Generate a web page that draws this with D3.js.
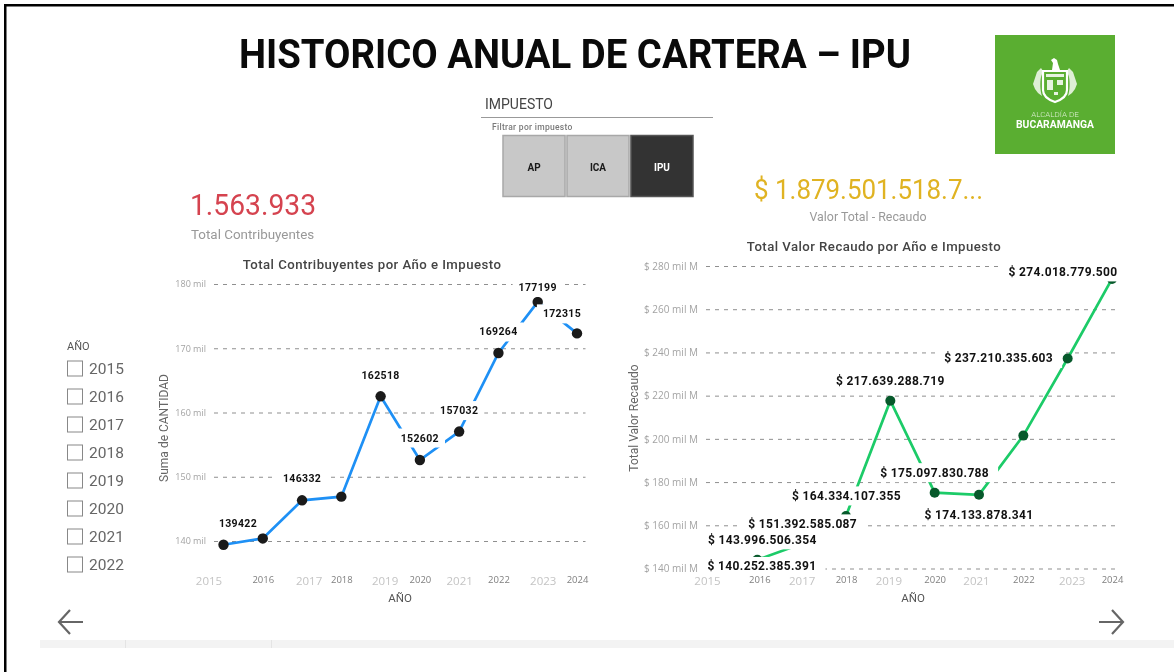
<!DOCTYPE html>
<html>
<head>
<meta charset="utf-8">
<script src="https://cdn.jsdelivr.net/npm/d3@7"></script>
<style>
  html, body { margin: 0; padding: 0; background: #fff; overflow: hidden; }
  svg { display: block; filter: blur(0.45px); }
  text { font-family: Roboto, "Open Sans", sans-serif; }
</style>
</head>
<body>
<div id="chart"></div>
<script>
// data (2016, 2018 and the 2022 recaudo have no label, so estimated)
var years = [2015, 2016, 2017, 2018, 2019, 2020, 2021, 2022, 2023, 2024];
var contribuyentes = [139422, 140400, 146332, 146900, 162518, 152602, 157032, 169264, 177199, 172315];
var recaudo = [140252385391, 143996506354, 151392585087, 164334107355, 217639288719,
               175097830788, 174133878341, 201500000000, 237210335603, 274018779500];
var contribuyentesTicks = [140000, 150000, 160000, 170000, 180000];
var recaudoTicks = [140e9, 160e9, 180e9, 200e9, 220e9, 240e9, 260e9, 280e9];
var filtroYears = [2015, 2016, 2017, 2018, 2019, 2020, 2021, 2022];
var impuestos = ["AP", "ICA", "IPU"];

var width = 1174,
    height = 672;

var svg = d3.select("#chart").append("svg")
    .attr("width", width)
    .attr("height", height);

// frame + strip at the bottom
svg.append("rect").attr("x", 4).attr("y", 4).attr("width", 1180).attr("height", 2.5).attr("fill", "#000");
svg.append("rect").attr("x", 4).attr("y", 4).attr("width", 2.5).attr("height", 680).attr("fill", "#000");
svg.append("rect").attr("x", 40).attr("y", 640).attr("width", 1134).attr("height", 8).attr("fill", "#f3f3f3");
[125, 271].forEach(function(x) {
    svg.append("rect").attr("x", x).attr("y", 640).attr("width", 1).attr("height", 8).attr("fill", "#e4e4e4");
});

function addText(x, y, str, size, color, weight, anchor, spacing) {
    return svg.append("text")
        .attr("x", x).attr("y", y)
        .attr("text-anchor", anchor || "start")
        .style("font-size", size + "px")
        .style("font-weight", weight || 400)
        .style("letter-spacing", (spacing || 0) + "px")
        .attr("fill", color)
        .text(str);
}

// the original font (DIN) is narrower than anything installed, so squeeze to the same width
function squeeze(sel, w) {
    return sel.attr("textLength", w).attr("lengthAdjust", "spacingAndGlyphs");
}

squeeze(addText(239, 68, "HISTORICO ANUAL DE CARTERA – IPU", 40, "#0a0a0a", 700), 672);

// slicer impuesto
addText(485, 109, "IMPUESTO", 14, "#444", 400);
svg.append("line").attr("x1", 481).attr("x2", 713).attr("y1", 117.5).attr("y2", 117.5).attr("stroke", "#999");
addText(492, 130, "Filtrar por impuesto", 8.5, "#7a7a7a", 500, "start", 0.3);

var btnX = d3.scaleBand().domain(impuestos).range([503, 693]).paddingInner(0.03);
impuestos.forEach(function(d) {
    var on = d == "IPU";
    svg.append("rect")
        .attr("x", btnX(d)).attr("y", 135.5)
        .attr("width", btnX.bandwidth()).attr("height", 61)
        .attr("fill", on ? "#333" : "#c8c8c8")
        .attr("stroke", on ? "#555" : "#a8a8a8").attr("stroke-width", 1.5);
    addText(btnX(d) + btnX.bandwidth() / 2, 171, d, 10, on ? "#fff" : "#1a1a1a", 700, "middle");
});

// logo
svg.append("rect").attr("x", 995).attr("y", 35).attr("width", 120).attr("height", 119).attr("fill", "#5aae31");
var crest = svg.append("g").attr("fill", "#fff").attr("stroke", "none");
crest.append("path").attr("d", "M1043 71h24v19c0 6-6 10-12 12-6-2-12-6-12-12z").attr("fill", "none").attr("stroke", "#fff").attr("stroke-width", 2.2);
crest.append("path").attr("d", "M1046 74h18v3h-18zM1047 80h6v10h-6zM1057 80h6v5h-6zM1054 92h4v3h-4z").attr("opacity", 0.85);
crest.append("path").attr("d", "M1052 70l1-7-2-3 3-2 3 2 1 4 2 6z");
crest.append("path").attr("d", "M1041 68l-4 4-2 6-2 6 2 5 3 4 4 3c-2-6-2-14-1-19l2-6z").attr("opacity", 0.8);
crest.append("path").attr("d", "M1069 68l4 4 2 6 2 6-2 5-3 4-4 3c2-6 2-14 1-19l-2-6z").attr("opacity", 0.8);
addText(1055, 116.5, "ALCALDÍA DE", 8, "#d8edcd", 300, "middle");
squeeze(addText(1016, 128, "BUCARAMANGA", 10.5, "#fff", 700), 78);

// KPIs
squeeze(addText(190, 215, "1.563.933", 30, "#d5434f", 400), 126);
addText(191, 239, "Total Contribuyentes", 13.4, "#999", 400);
squeeze(addText(754, 199, "$ 1.879.501.518.7...", 28, "#e0b322", 400), 229);
addText(868, 221, "Valor Total - Recaudo", 12.4, "#999", 400, "middle");

// slicer año
addText(67, 350, "AÑO", 11, "#555", 400);
var filtroY = d3.scalePoint().domain(filtroYears).range([368.5, 564.5]);
filtroYears.forEach(function(d) {
    svg.append("rect")
        .attr("x", 67.5).attr("y", filtroY(d) - 7.5)
        .attr("width", 15).attr("height", 15)
        .attr("fill", "#fff").attr("stroke", "#888").attr("stroke-width", 1);
    addText(89, filtroY(d) + 5.5, d, 15.5, "#666", 400);
});

// arrows
function arrow(x0, x1) {
    var dir = x1 > x0 ? -1 : 1;
    svg.append("path")
        .attr("d", "M" + x0 + " 622H" + x1 + "M" + (x1 + dir * 11) + " 610L" + x1 + " 622L" + (x1 + dir * 11) + " 634")
        .attr("fill", "none").attr("stroke", "#666").attr("stroke-width", 2.2);
}
arrow(83, 59);
arrow(1099, 1123);

var fmtDots = d3.formatLocale({decimal: ",", thousands: ".", grouping: [3], currency: ["$ ", ""]}).format("$,d");

// one line chart, the label and tick offsets come from the original's own placement
function lineChart(c) {
    var x = d3.scalePoint().domain(years).range(c.xRange);
    var y = d3.scaleLinear().domain(c.yDomain).range(c.yRange);
    var g = svg.append("g");

    var yAxis = d3.axisLeft(y)
        .tickValues(c.ticks)
        .tickFormat(c.tickFormat)
        .tickSize(-(c.gridEnd - c.gridStart))
        .tickPadding(c.tickPad);
    var ya = g.append("g").attr("transform", "translate(" + c.gridStart + ",0)").call(yAxis);
    ya.select(".domain").remove();
    ya.selectAll("line").attr("stroke", "#8f8f8f").attr("stroke-dasharray", "4,5").attr("stroke-width", 1);
    ya.selectAll("text").attr("fill", "#a3a3a3").style("font-size", c.tickSize + "px").style("font-family", "'Open Sans', sans-serif");

    var xAxis = d3.axisBottom(x).tickSize(0).tickFormat(d3.format("d"));
    var xa = g.append("g").attr("transform", "translate(0," + c.xAxisY + ")").call(xAxis);
    xa.select(".domain").remove();
    xa.selectAll("text")
        .attr("dx", function(d) { return c.tickDx[d] || 0; })
        .attr("dy", function(d) { return d % 2 ? "13px" : "11px"; })
        .attr("y", 0)
        .attr("fill", function(d) { return d % 2 ? "#c4c4c4" : "#7f7f7f"; })
        .style("font-size", function(d) { return d % 2 ? "11.5px" : "9.5px"; })
        .style("font-family", "'Open Sans', sans-serif");

    var line = d3.line()
        .x(function(d, i) { return x(years[i]); })
        .y(function(d) { return y(d); });

    g.append("path").datum(c.values)
        .attr("d", line)
        .attr("fill", "none")
        .attr("stroke", c.lineColor)
        .attr("stroke-width", 2.7);

    g.selectAll("circle.pt").data(c.values).enter().append("circle")
        .attr("class", "pt")
        .attr("cx", function(d, i) { return x(years[i]); })
        .attr("cy", function(d) { return y(d); })
        .attr("r", c.r)
        .attr("fill", c.dotColor);

    // labels sit on a white box that hides whatever is behind them
    c.values.forEach(function(v, i) {
        var p = c.labelPos[years[i]];
        if (!p) return;
        var lx = x(years[i]) + p[0],
            ly = y(v) + p[1];
        var t = g.append("text")
            .attr("x", lx).attr("y", ly)
            .attr("text-anchor", "middle")
            .attr("dominant-baseline", "central")
            .style("font-size", c.labelSize + "px")
            .style("font-weight", 700)
            .style("letter-spacing", c.labelSpacing + "px")
            .attr("fill", "#111")
            .text(c.labelFormat(v));
        var b = t.node().getBBox();
        g.insert("rect", function() { return t.node(); })
            .attr("x", b.x - c.padX).attr("y", ly - 9.5)
            .attr("width", b.width + c.padX * 2).attr("height", 19)
            .attr("fill", "#fff");
    });

    addText(c.titleX, c.titleY, c.title, 13.2, "#444", 500, "middle", 0.45);
    addText(c.xTitleX, 602, "AÑO", 11.5, "#555", 400, "middle");
    svg.append("text")
        .attr("transform", "translate(" + c.yTitleX + "," + c.yTitleY + ") rotate(-90)")
        .attr("text-anchor", "middle")
        .style("font-size", "12px")
        .attr("fill", "#666")
        .text(c.yTitle);
}

lineChart({
    values: contribuyentes,
    xRange: [223.5, 577],
    yDomain: [140000, 180000],
    yRange: [541, 284],
    ticks: contribuyentesTicks,
    tickFormat: function(d) { return (d / 1000) + " mil"; },
    gridStart: 214, gridEnd: 585.5, tickPad: 8, tickSize: 9,
    xAxisY: 572,
    tickDx: {2015: -15, 2017: 6.5, 2019: 4, 2023: 5},
    lineColor: "#1e90f5", dotColor: "#1a1a1a", r: 5.2,
    labelSize: 10.5, labelSpacing: 0.35, padX: 6,
    labelFormat: String,
    labelPos: {
        2015: [14.5, -21], 2017: [0, -22], 2019: [0, -21], 2020: [0, -22], 2021: [0, -21],
        2022: [0, -21], 2023: [0, -14.5], 2024: [-15, -19.5]
    },
    title: "Total Contribuyentes por Año e Impuesto", titleX: 372, titleY: 269,
    xTitleX: 400,
    yTitle: "Suma de CANTIDAD", yTitleX: 168, yTitleY: 428
});

lineChart({
    values: recaudo,
    xRange: [713, 1112],
    yDomain: [140e9, 280e9],
    yRange: [568.5, 266],
    ticks: recaudoTicks,
    tickFormat: function(d) { return "$ " + (d / 1e9) + " mil M"; },
    gridStart: 706, gridEnd: 1118, tickPad: 8, tickSize: 10,
    xAxisY: 572,
    tickDx: {2015: -6, 2016: 2, 2019: -2, 2021: -3, 2023: 4},
    lineColor: "#1ccb68", dotColor: "#07592b", r: 5,
    labelSize: 12, labelSpacing: 0.35, padX: 9,
    labelFormat: fmtDots,
    labelPos: {
        2015: [49, -1.5], 2016: [5, -20], 2017: [1, -20], 2018: [0.5, -20], 2019: [0, -20],
        2020: [0, -20], 2021: [0, 20], 2023: [-69, 0], 2024: [-49, -7]
    },
    title: "Total Valor Recaudo por Año e Impuesto", titleX: 874, titleY: 251,
    xTitleX: 913,
    yTitle: "Total Valor Recaudo", yTitleX: 638, yTitleY: 418
});
</script>
</body>
</html>
